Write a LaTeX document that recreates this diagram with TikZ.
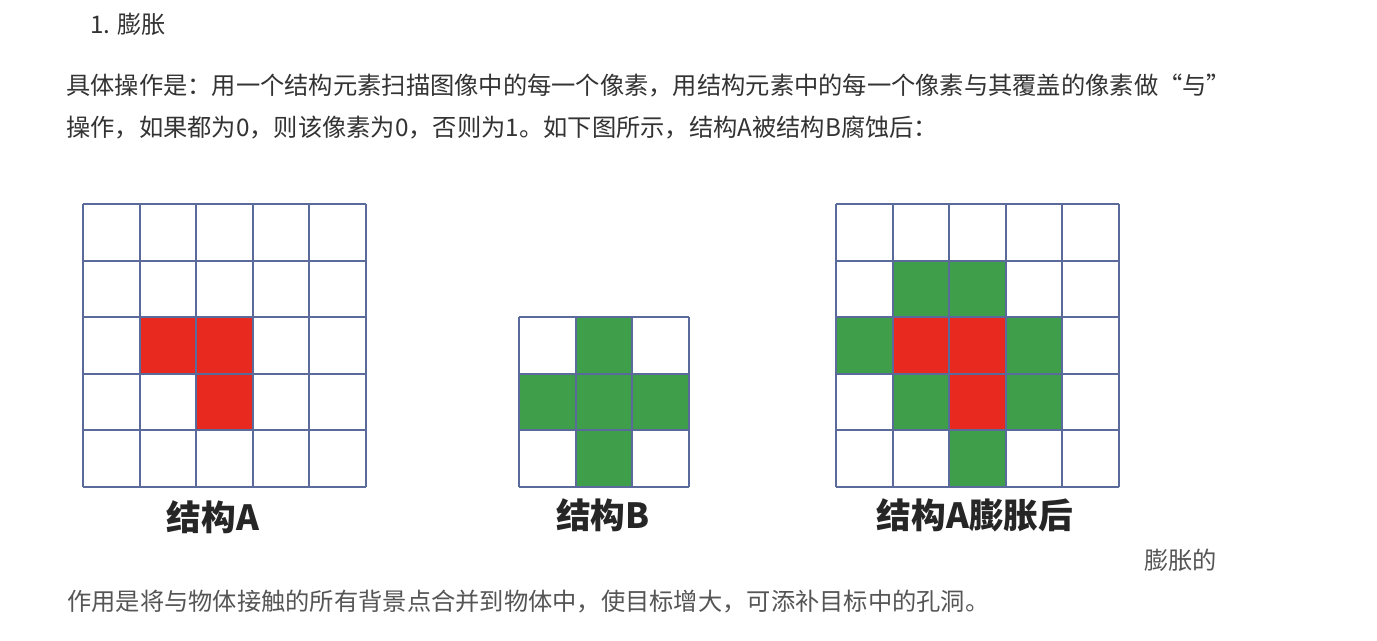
\documentclass[tikz,border=0pt]{standalone}
\usepackage{fontspec}
\newfontfamily\cjk{Noto Sans CJK SC}
\definecolor{gridc}{HTML}{5A6A9A}
\definecolor{redc}{HTML}{E8291F}
\definecolor{greenc}{HTML}{3F9E4A}
\definecolor{txt}{HTML}{333333}
\definecolor{txtb}{HTML}{555555}
\begin{document}
\begin{tikzpicture}[x=0.75pt,y=-0.75pt,
  gl/.style={draw=gridc,line width=1.6pt},
  body/.style={anchor=west,inner sep=0pt,text=txt,font=\cjk\fontsize{18.2}{22}\selectfont},
  lab/.style={inner sep=0pt,text=black!85,font=\cjk\bfseries\fontsize{26}{30}\selectfont}]
\useasboundingbox[fill=white] (0,0) rectangle (1377,640);
\def\csz{56.6}
% text
\node[body] (title) at (90,24) {1. 膨胀};
\node[body] (l1) at (66,86) {具体操作是：用一个结构元素扫描图像中的每一个像素，用结构元素中的每一个像素与其覆盖的像素做“与”};
\node[body] (l2) at (66,128) {操作，如果都为0，则该像素为0，否则为1。如下图所示，结构A被结构B腐蚀后：};
\node[body,text=txtb] (l3) at (1144,560) {膨胀的};
\node[body,text=txtb] (l4) at (67,602) {作用是将与物体接触的所有背景点合并到物体中，使目标增大，可添补目标中的孔洞。};
% grid A
\begin{scope}[shift={(83,204)}]
  \fill[redc] (1*\csz,2*\csz) rectangle +(\csz,\csz);
  \fill[redc] (2*\csz,2*\csz) rectangle +(\csz,\csz);
  \fill[redc] (2*\csz,3*\csz) rectangle +(\csz,\csz);
  \foreach \i in {0,...,5} {
    \draw[gl] (\i*\csz,0) -- (\i*\csz,5*\csz);
    \draw[gl] (0,\i*\csz) -- (5*\csz,\i*\csz);
  }
\end{scope}
\node[lab] (la) at (213,517) {结构A};
% grid B
\begin{scope}[shift={(519,317)}]
  \fill[greenc] (1*\csz,0) rectangle +(\csz,3*\csz);
  \fill[greenc] (0,1*\csz) rectangle +(3*\csz,\csz);
  \foreach \i in {0,...,3} {
    \draw[gl] (\i*\csz,0) -- (\i*\csz,3*\csz);
    \draw[gl] (0,\i*\csz) -- (3*\csz,\i*\csz);
  }
\end{scope}
\node[lab] (lb) at (603,515) {结构B};
% grid C
\begin{scope}[shift={(836,204)}]
  \fill[greenc] (1*\csz,1*\csz) rectangle +(2*\csz,\csz);
  \fill[greenc] (0,2*\csz) rectangle +(\csz,\csz);
  \fill[greenc] (3*\csz,2*\csz) rectangle +(\csz,\csz);
  \fill[greenc] (1*\csz,3*\csz) rectangle +(\csz,\csz);
  \fill[greenc] (3*\csz,3*\csz) rectangle +(\csz,\csz);
  \fill[greenc] (2*\csz,4*\csz) rectangle +(\csz,\csz);
  \fill[redc] (1*\csz,2*\csz) rectangle +(2*\csz,\csz);
  \fill[redc] (2*\csz,3*\csz) rectangle +(\csz,\csz);
  \foreach \i in {0,...,5} {
    \draw[gl] (\i*\csz,0) -- (\i*\csz,5*\csz);
    \draw[gl] (0,\i*\csz) -- (5*\csz,\i*\csz);
  }
\end{scope}
\node[lab] (lc) at (975,515) {结构A膨胀后};
\end{tikzpicture}
\end{document}
